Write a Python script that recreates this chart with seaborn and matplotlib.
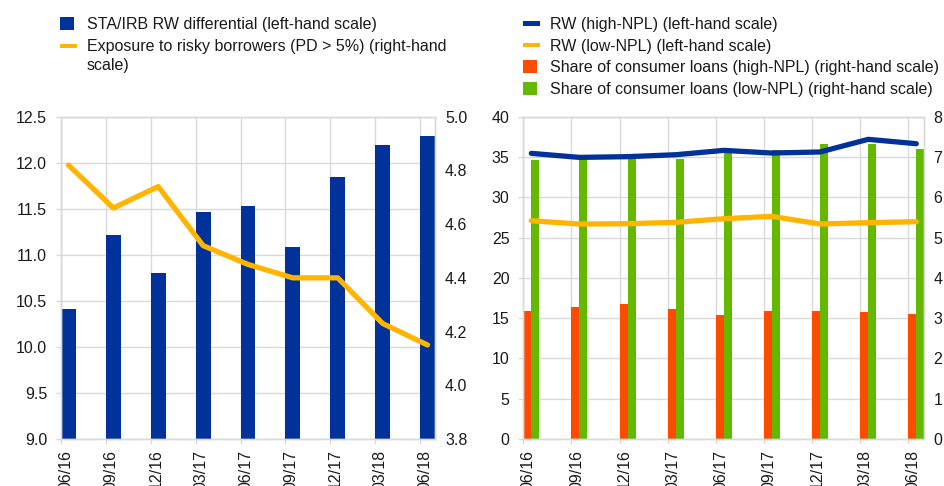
import numpy as np
import pandas as pd
import matplotlib
matplotlib.use("Agg")
import matplotlib.pyplot as plt
import seaborn as sns
from matplotlib.patches import Rectangle, Patch
from matplotlib.legend_handler import HandlerBase
from matplotlib.transforms import ScaledTranslation

# ---- data -------------------------------------------------------------
periods = ["06/16", "09/16", "12/16", "03/17", "06/17", "09/17", "12/17", "03/18", "06/18"]

# left panel
rw_differential = [10.41, 11.21, 10.80, 11.46, 11.53, 11.09, 11.84, 12.19, 12.29]
risky_exposure = [4.82, 4.66, 4.74, 4.52, 4.45, 4.40, 4.40, 4.23, 4.15]

# right panel
rw_high_npl = [35.45, 34.95, 35.04, 35.28, 35.82, 35.49, 35.62, 37.19, 36.65]
rw_low_npl = [27.09, 26.68, 26.72, 26.89, 27.34, 27.63, 26.68, 26.85, 26.97]
consumer_high_npl = [3.18, 3.27, 3.35, 3.23, 3.09, 3.17, 3.17, 3.15, 3.11]
consumer_low_npl = [6.92, 6.94, 6.96, 6.96, 7.14, 7.18, 7.32, 7.32, 7.20]

left_ticks_l = [9.0, 9.5, 10.0, 10.5, 11.0, 11.5, 12.0, 12.5]
left_ticks_r = [3.8, 4.0, 4.2, 4.4, 4.6, 4.8, 5.0]
right_ticks_l = [0, 5, 10, 15, 20, 25, 30, 35, 40]
right_ticks_r = [0, 1, 2, 3, 4, 5, 6, 7, 8]

# ---- style ------------------------------------------------------------
BLUE = "#003299"
YELLOW = "#FFB400"
RED = "#FF4B00"
GREEN = "#65B800"
GRID = "#D9D9D9"
TEXT = "#1a1a1a"

sns.set_theme(style="white")
plt.rcParams["font.family"] = ["Liberation Sans", "DejaVu Sans"]
plt.rcParams["text.color"] = TEXT
plt.rcParams["xtick.color"] = GRID
plt.rcParams["ytick.color"] = GRID
plt.rcParams["xtick.labelcolor"] = TEXT
plt.rcParams["ytick.labelcolor"] = TEXT

FS = 11.5
W, H = 944, 486
fig = plt.figure(figsize=(W / 100, H / 100), dpi=100)


def px_rect(x0, y0, x1, y1):
    return [x0 / W, 1 - y1 / H, (x1 - x0) / W, (y1 - y0) / H]


idx = np.arange(len(periods))
centers = idx + 1 / 6
span = (0, len(periods) - 1 + 1 / 3)
label_shift = ScaledTranslation(5 / 100, 0, fig.dpi_scale_trans)


def frame(ax):
    for s in ax.spines.values():
        s.set_color(GRID)
        s.set_linewidth(1.0)


def style_x(ax):
    ax.set_xlim(*span)
    ax.set_xticks(idx)
    ax.set_xticklabels(periods, rotation=90, ha="center", va="top")
    ax.tick_params(axis="x", bottom=True, length=3.6, width=1, pad=4, labelsize=FS)
    ax.set_xlabel("")
    for lab in ax.get_xticklabels():
        lab.set_transform(lab.get_transform() + label_shift)


# ---- left panel -------------------------------------------------------
axL = fig.add_axes(px_rect(61, 116.7, 435, 439))
df_left = pd.DataFrame({"x": centers, "diff": rw_differential, "risk": risky_exposure})
sns.barplot(data=df_left, x="x", y="diff", native_scale=True, width=1 / 3,
            color=BLUE, saturation=1, errorbar=None, linewidth=0, ax=axL)
axL.set_ylim(9.0, 12.5)
axL.set_yticks(left_ticks_l)
axL.set_yticklabels([f"{v:.1f}" for v in left_ticks_l])
axL.grid(True, color=GRID, linewidth=1)
axL.set_axisbelow(True)
axL.set_ylabel("")
style_x(axL)
frame(axL)

axL2 = axL.twinx()
sns.lineplot(data=df_left, x="x", y="risk", color=YELLOW, linewidth=3.8,
             solid_capstyle="round", ax=axL2)
axL2.set_ylim(3.8, 5.0)
axL2.set_yticks(left_ticks_r)
axL2.set_yticklabels([f"{v:.1f}" for v in left_ticks_r])
axL2.tick_params(axis="y", right=True, length=0, pad=7.2, labelsize=FS)
axL2.set_ylabel("")
axL2.grid(False)
axL2.set_xlim(*span)
frame(axL2)
axL.tick_params(axis="y", left=True, length=3.6, width=1, pad=6.4, labelsize=FS)

# ---- right panel ------------------------------------------------------
# bars (right-hand scale) live on the base axes so the grid sits beneath them
axR = fig.add_axes(px_rect(523.3, 116.7, 924.3, 439))
df_share = pd.DataFrame({
    "x": np.concatenate([centers, centers]),
    "share": consumer_high_npl + consumer_low_npl,
    "group": ["high"] * len(periods) + ["low"] * len(periods),
})
sns.barplot(data=df_share, x="x", y="share", hue="group", native_scale=True,
            width=1 / 3, palette=[RED, GREEN], saturation=1, errorbar=None,
            linewidth=0, legend=False, ax=axR)
axR.set_ylim(0, 8)
axR.set_yticks(right_ticks_r)
axR.grid(True, color=GRID, linewidth=1)
axR.set_axisbelow(True)
axR.set_ylabel("")
style_x(axR)
frame(axR)

# lines (left-hand scale) on the twin, drawn above the bars
axR2 = axR.twinx()
df_rw = pd.DataFrame({"x": centers, "high": rw_high_npl, "low": rw_low_npl})
sns.lineplot(data=df_rw, x="x", y="high", color=BLUE, linewidth=3.8,
             solid_capstyle="round", ax=axR2)
sns.lineplot(data=df_rw, x="x", y="low", color=YELLOW, linewidth=3.8,
             solid_capstyle="round", ax=axR2)
axR2.set_ylim(0, 40)
axR2.set_yticks(right_ticks_l)
axR2.yaxis.tick_left()
axR2.tick_params(axis="y", left=True, right=False, labelleft=True,
                 labelright=False, length=3.6, width=1, pad=6.4, labelsize=FS)
axR2.set_ylabel("")
axR2.grid(False)
axR2.set_xlim(*span)
frame(axR2)

# the share scale sits on the right edge (set after twinx, which resets it)
axR.yaxis.tick_right()
axR.tick_params(axis="y", right=True, left=False, labelright=True,
                labelleft=False, length=0, pad=6.5, labelsize=FS)


# ---- legends ----------------------------------------------------------
class BoxHandler(HandlerBase):
    def __init__(self, w, h, dy=0.0):
        super().__init__()
        self.w, self.h, self.dy = w, h, dy

    def create_artists(self, legend, orig_handle, xdescent, ydescent,
                       width, height, fontsize, trans):
        r = Rectangle((-xdescent, -ydescent + (height - self.h) / 2 + self.dy),
                      self.w, self.h, facecolor=orig_handle.get_facecolor(),
                      edgecolor="none", transform=trans)
        return [r]


def box(c):
    return Patch(facecolor=c)


bar_h = BoxHandler(10.1, 9.4)
line_h = BoxHandler(12.2, 3.2)
line_h_wrapped = BoxHandler(12.2, 3.2, dy=7.2)

legend_kw = dict(loc="upper left", frameon=False, fontsize=FS, borderpad=0,
                 borderaxespad=0, handlelength=1.06, handletextpad=0.62,
                 labelspacing=0.42)

hl1, hl2 = box(BLUE), box(YELLOW)
legL = fig.legend(
    [hl1, hl2],
    ["STA/IRB RW differential (left-hand scale)",
     "Exposure to risky borrowers (PD > 5%) (right-hand\nscale)"],
    handler_map={hl1: bar_h, hl2: line_h_wrapped},
    bbox_to_anchor=(60 / W, 1 - 17 / H), **legend_kw,
)
for t in legL.get_texts():
    t.set_linespacing(1.33)

hr1, hr2, hr3, hr4 = box(BLUE), box(YELLOW), box(RED), box(GREEN)
legR = fig.legend(
    [hr1, hr2, hr3, hr4],
    ["RW (high-NPL) (left-hand scale)",
     "RW (low-NPL) (left-hand scale)",
     "Share of consumer loans (high-NPL) (right-hand scale)",
     "Share of consumer loans (low-NPL) (right-hand scale)"],
    handler_map={hr1: line_h, hr2: line_h, hr3: bar_h, hr4: bar_h},
    bbox_to_anchor=(523 / W, 1 - 17 / H), **legend_kw,
)

fig.savefig("out.png", dpi=100)
